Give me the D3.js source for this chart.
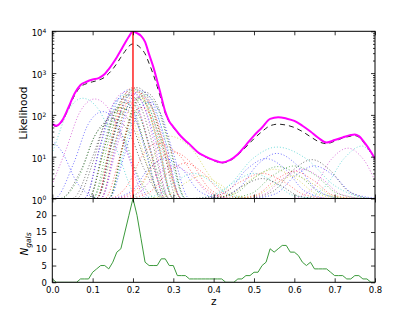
<!DOCTYPE html>
<html>
<head>
<meta charset="utf-8">
<script src="https://cdn.jsdelivr.net/npm/d3@7"></script>
<style>
body { margin: 0; background: #fff; }
text { font-family: "DejaVu Sans", sans-serif; fill: #000; }
</style>
</head>
<body>
<div id="chart"></div>
<script>
// summed likelihood (solid magenta) and weighted sum (dashed black)
const likeZ = [0, 0.01, 0.025, 0.04, 0.055, 0.07, 0.085, 0.10, 0.115, 0.13, 0.14, 0.15, 0.16, 0.17, 0.18, 0.19, 0.20,
    0.21, 0.22, 0.23, 0.24, 0.25, 0.26, 0.27, 0.28, 0.29, 0.30, 0.32, 0.34, 0.36, 0.38, 0.40, 0.42, 0.44, 0.46, 0.48,
    0.50, 0.52, 0.54, 0.56, 0.58, 0.60, 0.62, 0.64, 0.66, 0.68, 0.70, 0.72, 0.74, 0.75, 0.76, 0.775, 0.79, 0.80];
const likeTotal = [60, 55, 75, 150, 320, 520, 620, 700, 760, 950, 1250, 1700, 2400, 3500, 5200, 7500, 10000,
    9000, 7800, 5600, 2800, 1450, 650, 280, 120, 70, 52, 30, 20, 13, 10, 8.3, 7.3, 8.3, 11.5, 19,
    32, 50, 80, 88, 82, 72, 55, 40, 28, 22, 25, 29, 33, 34, 31, 21, 13, 9];
const likeDashed = [58, 53, 72, 140, 290, 470, 560, 620, 680, 800, 980, 1250, 1700, 2400, 3300, 4400, 5000,
    4700, 3900, 2900, 1700, 950, 480, 230, 110, 67, 50, 29, 19.5, 12.7, 9.8, 8.1, 7.1, 8, 11, 17,
    27, 40, 55, 60, 57, 50, 40, 30, 23, 20.5, 23.5, 28, 31, 32, 29.5, 20, 12.5, 8.8];

// individual galaxy likelihoods, [z, L] points
const galaxyColors = ["c", "m", "b", "b", "k", "k", "g",
    "b", "g", "r", "c", "m", "y", "k", "b", "g", "r", "c", "m", "y",
    "k", "b", "g", "r", "c", "m", "y", "k", "b", "g", "r", "k", "g",
    "r", "r", "y", "r", "m", "c", "b", "y",
    "c", "b", "b", "k", "g", "y", "r", "r", "m", "c", "g", "m", "b", "c", "k", "y"];
const galaxyPoints = [
    [[-0.045, 1], [0.003, 15], [0.039, 125], [0.075, 250], [0.117, 125], [0.159, 15], [0.215, 1]],
    [[-0.015, 1], [0.033, 14], [0.069, 120], [0.105, 240], [0.144, 120], [0.183, 14], [0.235, 1]],
    [[-0.16, 1], [-0.118, 2.2], [-0.062, 14], [-0.02, 28], [0.022, 14], [0.064, 2.2], [0.12, 1]],
    [[0.005, 1], [0.053, 7], [0.089, 60], [0.125, 120], [0.161, 60], [0.197, 7], [0.245, 1]],
    [[0.02, 1], [0.072, 5], [0.111, 40], [0.15, 80], [0.189, 40], [0.228, 5], [0.28, 1]],
    [[0.05, 1], [0.098, 9], [0.134, 75], [0.17, 150], [0.206, 75], [0.242, 9], [0.29, 1]],
    [[0.02, 1], [0.068, 3.6], [0.104, 30], [0.14, 60], [0.176, 30], [0.212, 3.6], [0.26, 1]],
    [[0.09, 1], [0.13, 24], [0.16, 200], [0.19, 400], [0.223, 200], [0.256, 24], [0.30, 1]],
    [[0.10, 1], [0.14, 25], [0.17, 210], [0.20, 420], [0.23, 210], [0.26, 25], [0.30, 1]],
    [[0.12, 1], [0.156, 21], [0.183, 175], [0.21, 350], [0.243, 175], [0.276, 21], [0.32, 1]],
    [[0.08, 1], [0.12, 18], [0.15, 150], [0.18, 300], [0.21, 150], [0.24, 18], [0.28, 1]],
    [[0.12, 1], [0.16, 17], [0.19, 140], [0.22, 280], [0.25, 140], [0.28, 17], [0.32, 1]],
    [[0.11, 1], [0.146, 23], [0.173, 190], [0.20, 380], [0.23, 190], [0.26, 23], [0.30, 1]],
    [[0.11, 1], [0.15, 27], [0.18, 225], [0.21, 450], [0.24, 225], [0.27, 27], [0.31, 1]],
    [[0.08, 1], [0.116, 15], [0.143, 125], [0.17, 250], [0.20, 125], [0.23, 15], [0.27, 1]],
    [[0.14, 1], [0.176, 18], [0.203, 150], [0.23, 300], [0.26, 150], [0.29, 18], [0.33, 1]],
    [[0.11, 1], [0.142, 12], [0.166, 100], [0.19, 200], [0.217, 100], [0.244, 12], [0.28, 1]],
    [[0.11, 1], [0.15, 24], [0.18, 200], [0.21, 400], [0.237, 200], [0.264, 24], [0.30, 1]],
    [[0.08, 1], [0.12, 21], [0.15, 175], [0.18, 350], [0.21, 175], [0.24, 21], [0.28, 1]],
    [[0.14, 1], [0.172, 15], [0.196, 125], [0.22, 250], [0.25, 125], [0.28, 15], [0.32, 1]],
    [[0.09, 1], [0.13, 18], [0.16, 150], [0.19, 300], [0.22, 150], [0.25, 18], [0.29, 1]],
    [[0.12, 1], [0.16, 23], [0.19, 190], [0.22, 380], [0.25, 190], [0.28, 23], [0.32, 1]],
    [[0.09, 1], [0.126, 12], [0.153, 100], [0.18, 200], [0.207, 100], [0.234, 12], [0.27, 1]],
    [[0.11, 1], [0.146, 27], [0.173, 225], [0.20, 450], [0.23, 225], [0.26, 27], [0.30, 1]],
    [[0.14, 1], [0.176, 12], [0.203, 100], [0.23, 200], [0.26, 100], [0.29, 12], [0.33, 1]],
    [[0.11, 1], [0.146, 19], [0.173, 160], [0.20, 320], [0.227, 160], [0.254, 19], [0.29, 1]],
    [[0.09, 1], [0.122, 9], [0.146, 75], [0.17, 150], [0.20, 75], [0.23, 9], [0.27, 1]],
    [[0.14, 1], [0.176, 21], [0.203, 175], [0.23, 350], [0.26, 175], [0.29, 21], [0.33, 1]],
    [[0.14, 1], [0.18, 12], [0.21, 100], [0.24, 200], [0.27, 100], [0.30, 12], [0.34, 1]],
    [[0.11, 1], [0.15, 15], [0.18, 125], [0.21, 250], [0.243, 125], [0.276, 15], [0.32, 1]],
    [[0.13, 1], [0.166, 9], [0.193, 75], [0.22, 150], [0.25, 75], [0.28, 9], [0.32, 1]],
    [[0.06, 1], [0.10, 7], [0.13, 60], [0.16, 120], [0.196, 60], [0.232, 7], [0.28, 1]],
    [[0.10, 1], [0.136, 9], [0.163, 75], [0.19, 150], [0.22, 75], [0.25, 9], [0.29, 1]],
    [[0.14, 1], [0.188, 2.2], [0.224, 11], [0.26, 21], [0.314, 11], [0.368, 2.2], [0.44, 1]],
    [[0.15, 1], [0.21, 1.7], [0.255, 7], [0.30, 13], [0.345, 7], [0.39, 1.7], [0.45, 1]],
    [[0.19, 1], [0.23, 2.8], [0.26, 16], [0.29, 31], [0.344, 16], [0.398, 2.8], [0.47, 1]],
    [[0.18, 1], [0.24, 1.4], [0.285, 4], [0.33, 7], [0.375, 4], [0.42, 1.4], [0.48, 1]],
    [[0.15, 1], [0.21, 1.3], [0.255, 3.5], [0.30, 6], [0.345, 3.5], [0.39, 1.3], [0.45, 1]],
    [[0.20, 1], [0.26, 1.2], [0.305, 2.5], [0.35, 4], [0.395, 2.5], [0.44, 1.2], [0.50, 1]],
    [[0.14, 1], [0.196, 1.5], [0.238, 5], [0.28, 9], [0.322, 5], [0.364, 1.5], [0.42, 1]],
    [[0.22, 1], [0.28, 1.15], [0.325, 2.2], [0.37, 3.5], [0.415, 2.2], [0.46, 1.15], [0.52, 1]],
    [[0.357, 1], [0.437, 2], [0.497, 9], [0.557, 17], [0.629, 9], [0.701, 2], [0.797, 1]],
    [[0.397, 1], [0.461, 1.7], [0.509, 6.5], [0.557, 12], [0.605, 6.5], [0.653, 1.7], [0.717, 1]],
    [[0.37, 1], [0.434, 1.5], [0.482, 5], [0.53, 9], [0.578, 5], [0.626, 1.5], [0.69, 1]],
    [[0.484, 1], [0.548, 1.5], [0.596, 4.7], [0.644, 8.5], [0.689, 4.7], [0.734, 1.5], [0.794, 1]],
    [[0.38, 1], [0.452, 1.3], [0.506, 3.4], [0.56, 5.8], [0.614, 3.4], [0.668, 1.3], [0.74, 1]],
    [[0.37, 1], [0.442, 1.25], [0.496, 3], [0.55, 5], [0.604, 3], [0.658, 1.25], [0.73, 1]],
    [[0.34, 1], [0.412, 1.2], [0.466, 2.5], [0.52, 4], [0.574, 2.5], [0.628, 1.2], [0.70, 1]],
    [[0.44, 1], [0.504, 1.2], [0.552, 2.7], [0.60, 4.5], [0.648, 2.7], [0.696, 1.2], [0.76, 1]],
    [[0.593, 1], [0.649, 1.9], [0.691, 8.5], [0.733, 16], [0.772, 8.5], [0.811, 1.9], [0.863, 1]],
    [[0.618, 1], [0.678, 2], [0.723, 9], [0.768, 18], [0.798, 9], [0.828, 2], [0.868, 1]],
    [[0.42, 1], [0.492, 1.3], [0.546, 3.5], [0.60, 6], [0.654, 3.5], [0.708, 1.3], [0.78, 1]],
    [[0.46, 1], [0.524, 1.25], [0.572, 3], [0.62, 5], [0.668, 3], [0.716, 1.25], [0.78, 1]],
    [[0.49, 1], [0.554, 1.3], [0.602, 3.5], [0.65, 6], [0.698, 3.5], [0.746, 1.3], [0.81, 1]],
    [[0.34, 1], [0.404, 1.2], [0.452, 2.5], [0.50, 4], [0.548, 2.5], [0.596, 1.2], [0.66, 1]],
    [[0.36, 1], [0.424, 1.1], [0.472, 2], [0.52, 3], [0.568, 2], [0.616, 1.1], [0.68, 1]],
    [[0.44, 1], [0.504, 1.15], [0.552, 2.2], [0.60, 3.5], [0.648, 2.2], [0.696, 1.15], [0.76, 1]]
];

// number of galaxies per 0.01 redshift bin, z = 0.00 ... 0.80
const nGals = [1, 0, 0, 0, 0, 0, 0, 1, 1, 1,
    3, 4, 5, 5, 4, 6, 9, 10, 15, 20,
    25, 20, 13, 6, 5, 5, 5, 7, 7, 5,
    5, 2, 2, 2, 1, 1, 1, 1, 1, 1,
    1, 1, 1, 0, 0, 0, 1, 1, 2, 2,
    3, 3, 5, 6, 10, 9, 10, 11, 11, 9,
    9, 8, 6, 5, 6, 4, 4, 4, 4, 3,
    2, 2, 2, 1, 1, 2, 2, 1, 1, 0,
    0];
const binStep = 0.01;
const zPeak = 0.2;

const xTicks = [0, 0.1, 0.2, 0.3, 0.4, 0.5, 0.6, 0.7, 0.8];
const logTicks = [1, 10, 100, 1000, 10000];
const nTicks = [0, 5, 10, 15, 20];

const mplColors = { b: "#0000ff", g: "#008000", r: "#ff0000", c: "#00bfbf", m: "#bf00bf", y: "#bfbf00", k: "#000000" };

function init() {
    const w = 416;
    const h = 314;
    const left = 52.3, right = 375, top = 31.3, mid = 198.5, bottom = 282.3;

    var svg = d3.select("#chart")
        .append("svg")
        .attr("width", w)
        .attr("height", h);

    var x = d3.scaleLinear().domain([0, 0.8]).range([left, right]);
    var yL = d3.scaleLog().domain([1, 10000]).range([mid, top]);
    var yN = d3.scaleLinear().domain([0, 25]).range([bottom, mid]);

    svg.append("clipPath").attr("id", "clipTop")
        .append("rect")
        .attr("x", left).attr("y", top)
        .attr("width", right - left).attr("height", mid - top);
    svg.append("clipPath").attr("id", "clipBot")
        .append("rect")
        .attr("x", left).attr("y", mid)
        .attr("width", right - left).attr("height", bottom - mid);

    var logLine = d3.line()
        .x(function (d) { return x(d[0]); })
        .y(function (d) { return yL(d[1]); })
        .curve(d3.curveMonotoneX);

    // dotted galaxy curves, with flat tails along L = 1
    var gTop = svg.append("g").attr("clip-path", "url(#clipTop)");
    for (let i = 0; i < galaxyPoints.length; i++) {
        let pts = galaxyPoints[i].slice();
        if (pts[0][0] > 0) pts.unshift([0, 1]);
        if (pts[pts.length - 1][0] < 0.8) pts.push([0.8, 1]);
        gTop.append("path")
            .attr("d", logLine(pts))
            .attr("fill", "none")
            .attr("stroke", mplColors[galaxyColors[i]])
            .attr("stroke-width", 1)
            .attr("stroke-dasharray", "1,2")
            .attr("opacity", 0.55);
    }

    var dashed = likeZ.map(function (z, i) { return [z, likeDashed[i]]; });
    var total = likeZ.map(function (z, i) { return [z, likeTotal[i]]; });

    gTop.append("path")
        .attr("d", logLine(dashed))
        .attr("fill", "none")
        .attr("stroke", "#222")
        .attr("stroke-width", 1)
        .attr("stroke-dasharray", "5,4");

    gTop.append("path")
        .attr("d", logLine(total))
        .attr("fill", "none")
        .attr("stroke", "#ff00ff")
        .attr("stroke-width", 2);

    gTop.append("line")
        .attr("x1", x(zPeak)).attr("x2", x(zPeak))
        .attr("y1", top).attr("y2", mid)
        .attr("stroke", "#ff2020")
        .attr("stroke-width", 1.5);

    // histogram line
    var nLine = d3.line()
        .x(function (d, i) { return x(i * binStep); })
        .y(function (d) { return yN(d); });

    svg.append("g").attr("clip-path", "url(#clipBot)")
        .append("path")
        .attr("d", nLine(nGals))
        .attr("fill", "none")
        .attr("stroke", "#3c9a3c")
        .attr("stroke-width", 1);

    // frames
    svg.append("rect")
        .attr("x", left).attr("y", top)
        .attr("width", right - left).attr("height", mid - top)
        .attr("fill", "none").attr("stroke", "#000").attr("stroke-width", 1);
    svg.append("rect")
        .attr("x", left).attr("y", mid)
        .attr("width", right - left).attr("height", bottom - mid)
        .attr("fill", "none").attr("stroke", "#000").attr("stroke-width", 1);

    function styleAxis(g) {
        g.select(".domain").remove();
        g.selectAll("line").attr("stroke", "#000").attr("stroke-width", 0.8);
        g.selectAll("text").attr("font-size", 8.5).attr("font-family", "DejaVu Sans").attr("fill", "#000");
    }

    var minorTicks = [];
    for (let e = 0; e < 4; e++) {
        for (let k = 2; k < 10; k++) minorTicks.push(k * Math.pow(10, e));
    }

    // top panel axes
    svg.append("g").attr("transform", "translate(" + left + ",0)")
        .call(d3.axisLeft(yL).tickValues(minorTicks).tickSize(-2).tickFormat(""))
        .call(styleAxis);
    svg.append("g").attr("transform", "translate(" + right + ",0)")
        .call(d3.axisRight(yL).tickValues(minorTicks).tickSize(-2).tickFormat(""))
        .call(styleAxis);
    svg.append("g").attr("transform", "translate(" + right + ",0)")
        .call(d3.axisRight(yL).tickValues(logTicks).tickSize(-4).tickFormat(""))
        .call(styleAxis);

    var logAxis = svg.append("g").attr("transform", "translate(" + left + ",0)")
        .call(d3.axisLeft(yL).tickValues(logTicks).tickSize(-4).tickPadding(6).tickFormat(""))
        .call(styleAxis);
    logAxis.selectAll(".tick text").each(function (d) {
        var t = d3.select(this).attr("dy", "0.55em");
        t.append("tspan").text("10");
        t.append("tspan").attr("dy", "-0.55em").attr("font-size", 6).text(Math.round(Math.log10(d)));
    });

    svg.append("g").attr("transform", "translate(0," + top + ")")
        .call(d3.axisTop(x).tickValues(xTicks).tickSize(-4).tickFormat(""))
        .call(styleAxis);
    svg.append("g").attr("transform", "translate(0," + mid + ")")
        .call(d3.axisBottom(x).tickValues(xTicks).tickSize(-4).tickFormat(""))
        .call(styleAxis);

    // bottom panel axes
    svg.append("g").attr("transform", "translate(" + left + ",0)")
        .call(d3.axisLeft(yN).tickValues(nTicks).tickSize(-4).tickPadding(5.5))
        .call(styleAxis);
    svg.append("g").attr("transform", "translate(" + right + ",0)")
        .call(d3.axisRight(yN).tickValues(nTicks).tickSize(-4).tickFormat(""))
        .call(styleAxis);
    svg.append("g").attr("transform", "translate(0," + bottom + ")")
        .call(d3.axisBottom(x).tickValues(xTicks).tickSize(-4).tickPadding(4.5).tickFormat(d3.format(".1f")))
        .call(styleAxis);
    svg.append("g").attr("transform", "translate(0," + mid + ")")
        .call(d3.axisTop(x).tickValues(xTicks).tickSize(-4).tickFormat(""))
        .call(styleAxis);

    // axis labels
    svg.append("text")
        .attr("transform", "translate(27,113) rotate(-90)")
        .attr("text-anchor", "middle")
        .attr("font-size", 10.5)
        .text("Likelihood");

    var nLabel = svg.append("text")
        .attr("transform", "translate(28,244) rotate(-90)")
        .attr("text-anchor", "middle")
        .attr("font-family", "DejaVu Serif")
        .attr("font-style", "italic")
        .attr("font-size", 10.5);
    nLabel.append("tspan").text("N");
    nLabel.append("tspan").attr("dy", 2.5).attr("font-size", 7.5).text("gals");

    svg.append("text")
        .attr("x", (left + right) / 2)
        .attr("y", 305)
        .attr("text-anchor", "middle")
        .attr("font-size", 10.5)
        .text("z");
}

window.onload = init;
</script>
</body>
</html>
